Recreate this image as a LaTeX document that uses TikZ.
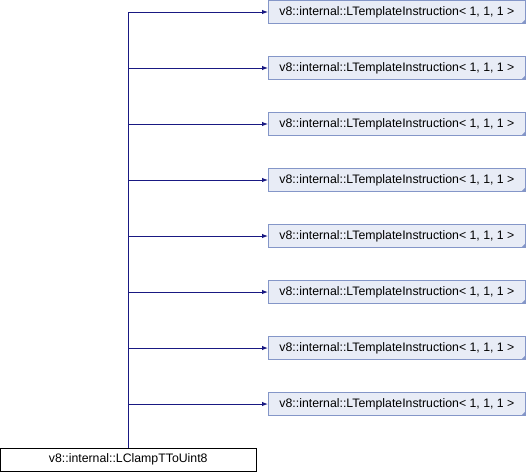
\documentclass[tikz,border=0pt]{standalone}
\usepackage{fontspec}
\setmainfont{Liberation Sans}
\usepackage{xcolor}
\usetikzlibrary{arrows.meta}
\definecolor{edgeblue}{RGB}{25,25,130}
\definecolor{classfill}{RGB}{232,236,246}
\definecolor{classline}{RGB}{132,150,200}

\begin{document}
\begin{tikzpicture}[x=1pt,y=1pt,font=\fontsize{12.3}{14}\selectfont,>={Latex[length=6pt,width=4.5pt]},
  classbox/.style={draw=classline,fill=classfill,line width=0.9pt,minimum width=257pt,minimum height=23pt,inner sep=0pt,anchor=west},
  basebox/.style={draw=black,fill=white,line width=0.9pt,minimum width=255.5pt,minimum height=23pt,inner sep=0pt},
  edge/.style={->,edgeblue,line width=1pt}]
  \useasboundingbox (0,0) rectangle (526,-472);
  \node[basebox] (clamp) at (128.25,-459.5) {v8::internal::LClampTToUint8};
  \foreach \i in {1,...,8} {
    \node[classbox] (tmpl\i) at (268,{-12-56*(\i-1)}) {v8::internal::LTemplateInstruction< 1, 1, 1 >};
    \fill[classline] (tmpl\i.south east) -- ++(-5,0) -- ++(5,5) -- cycle;
    \draw[edge] (clamp.north) |- (tmpl\i.west);
  }
\end{tikzpicture}
\end{document}
